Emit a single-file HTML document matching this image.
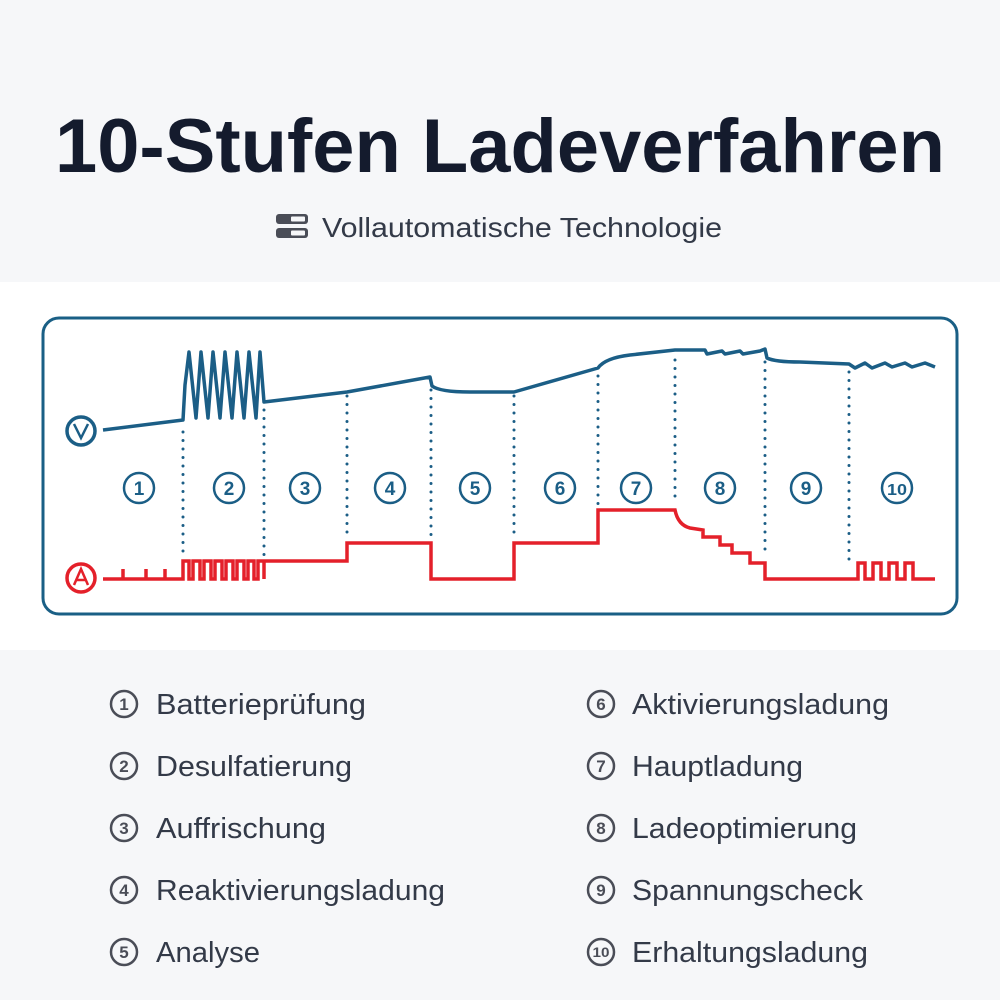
<!DOCTYPE html>
<html><head><meta charset="utf-8"><style>html,body{margin:0;padding:0;background:#f6f7f9}svg{display:block}</style></head>
<body>
<svg width="1000" height="1000" viewBox="0 0 1000 1000" xmlns="http://www.w3.org/2000/svg" font-family="Liberation Sans, sans-serif">
<rect x="0" y="0" width="1000" height="1000" fill="#f6f7f9"/>
<rect x="0" y="282" width="1000" height="368" fill="#ffffff"/>
<text x="500" y="172" text-anchor="middle" font-size="76" font-weight="bold" fill="#141b2d" textLength="890" lengthAdjust="spacingAndGlyphs">10-Stufen Ladeverfahren</text>
<g fill="#4a4d57">
<rect x="276" y="214" width="32" height="10" rx="3"/>
<rect x="276" y="228" width="32" height="10" rx="3"/>
<rect x="291" y="216.5" width="14" height="5" rx="1" fill="#f6f7f9"/>
<rect x="291" y="230.5" width="14" height="5" rx="1" fill="#f6f7f9"/>
</g>
<text x="322" y="237" font-size="28" fill="#333a48" textLength="400" lengthAdjust="spacingAndGlyphs">Vollautomatische Technologie</text>

<rect x="43" y="318" width="914" height="296" rx="16" fill="#fff" stroke="#1a5f85" stroke-width="3"/>
<g stroke="#1b5e86" stroke-width="3" stroke-dasharray="0 8.5" stroke-linecap="round" fill="none">
<path d="M183 432V555M264 410V555M347 396V537M431 390V537M514 396V537M598 376V504M675 360V504M765 362V557M849 372V566"/>
</g>
<g fill="none" stroke="#1b5e86" stroke-width="3.5" stroke-linejoin="round">
<path d="M103 430L183 420L185 385L189 352L196 418L201 352L208 418L213 352L220 418L225 352L232 418L237 352L244 418L249 352L256 418L260 352L264 402L347 392L430 377L432 386Q440 392 470 392L514 392L598 368Q605 358 630 355L675 350L705 350L707 354L722 351L725 354L740 351L743 354L760 351L765 349L767 358Q775 362 800 362L849 364L855 368L865 363L872 368L885 363L892 367L905 363L912 367L925 363L935 367"/>
<circle cx="81" cy="431" r="14"/>
</g>
<path d="M74 424L81 438L88 424" stroke="#1b5e86" stroke-width="2.5" fill="none"/>
<g fill="none" stroke="#e4202a" stroke-width="3.5" stroke-linejoin="miter">
<path d="M103 579H123V569V579H146V569V579H165V569V579H183V561H189V579H193V561H200V579H204V561H211V579H215V561H222V579H226V561H233V579H237V561H244V579H248V561H254V579H258V561H264V579V561H347V543H431V579H514V543H598V510H675Q678 525 690 528L703 530V537H720V545H732V553H750V563H765V579H858V563H865V579H873V563H881V579H889V563H897V579H905V563H913V579H935"/>
<circle cx="81" cy="578" r="14"/>
</g>
<path d="M74 585L81 569L88 585M76 580H86" stroke="#e4202a" stroke-width="2.5" fill="none"/>
<g fill="none" stroke="#1b5e86" stroke-width="2.5">
<circle cx="139" cy="488" r="15"/><circle cx="229" cy="488" r="15"/><circle cx="305" cy="488" r="15"/><circle cx="390" cy="488" r="15"/><circle cx="475" cy="488" r="15"/><circle cx="560" cy="488" r="15"/><circle cx="636" cy="488" r="15"/><circle cx="720" cy="488" r="15"/><circle cx="806" cy="488" r="15"/><circle cx="897" cy="488" r="15"/>
</g>
<g fill="#1b5e86" font-size="19" font-weight="bold" text-anchor="middle">
<text x="139" y="495">1</text><text x="229" y="495">2</text><text x="305" y="495">3</text><text x="390" y="495">4</text><text x="475" y="495">5</text><text x="560" y="495">6</text><text x="636" y="495">7</text><text x="720" y="495">8</text><text x="806" y="495">9</text><text x="897" y="495" font-size="16" textLength="20" lengthAdjust="spacingAndGlyphs">10</text>
</g>

<g fill="none" stroke="#4a4d57" stroke-width="2.5">
<circle cx="124" cy="704" r="13"/><circle cx="124" cy="766" r="13"/><circle cx="124" cy="828" r="13"/><circle cx="124" cy="890" r="13"/><circle cx="124" cy="952" r="13"/>
<circle cx="601" cy="704" r="13"/><circle cx="601" cy="766" r="13"/><circle cx="601" cy="828" r="13"/><circle cx="601" cy="890" r="13"/><circle cx="601" cy="952" r="13"/>
</g>
<g fill="#4a4d57" font-size="17" font-weight="bold" text-anchor="middle">
<text x="124" y="710">1</text><text x="124" y="772">2</text><text x="124" y="834">3</text><text x="124" y="896">4</text><text x="124" y="958">5</text>
<text x="601" y="710">6</text><text x="601" y="772">7</text><text x="601" y="834">8</text><text x="601" y="896">9</text><text x="601" y="957" font-size="14" textLength="17" lengthAdjust="spacingAndGlyphs">10</text>
</g>
<g fill="#333a48" font-size="29">
<text x="156" y="714" textLength="210" lengthAdjust="spacingAndGlyphs">Batterieprüfung</text>
<text x="156" y="776" textLength="196" lengthAdjust="spacingAndGlyphs">Desulfatierung</text>
<text x="156" y="838" textLength="170" lengthAdjust="spacingAndGlyphs">Auffrischung</text>
<text x="156" y="900" textLength="289" lengthAdjust="spacingAndGlyphs">Reaktivierungsladung</text>
<text x="156" y="962" textLength="104" lengthAdjust="spacingAndGlyphs">Analyse</text>
<text x="632" y="714" textLength="257" lengthAdjust="spacingAndGlyphs">Aktivierungsladung</text>
<text x="632" y="776" textLength="171" lengthAdjust="spacingAndGlyphs">Hauptladung</text>
<text x="632" y="838" textLength="225" lengthAdjust="spacingAndGlyphs">Ladeoptimierung</text>
<text x="632" y="900" textLength="231" lengthAdjust="spacingAndGlyphs">Spannungscheck</text>
<text x="632" y="962" textLength="236" lengthAdjust="spacingAndGlyphs">Erhaltungsladung</text>
</g>
</svg>
</body></html>
